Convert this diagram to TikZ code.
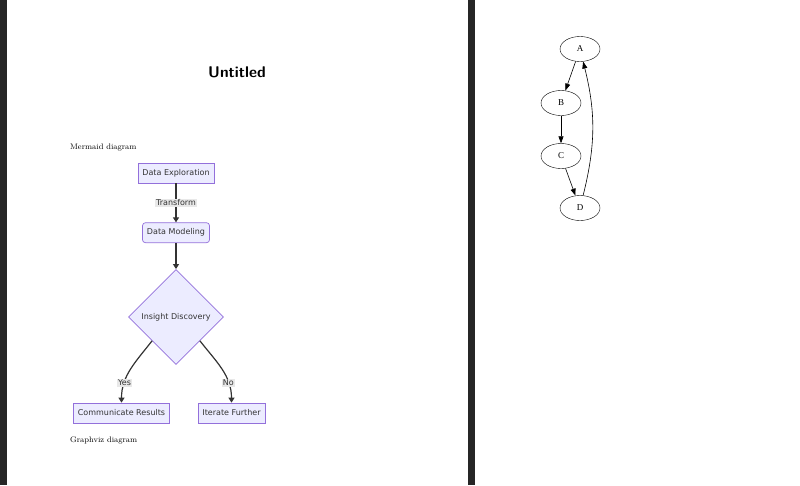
\documentclass[tikz,border=0pt]{standalone}
\usepackage{fontspec}
\newfontfamily\chartfont{DejaVu Sans}
\newfontfamily\dotfont{Liberation Serif}
\usepackage{tikz}
\usetikzlibrary{shapes.geometric, positioning, arrows.meta}
\definecolor{chartfill}{HTML}{ECECFF}
\definecolor{chartline}{HTML}{9370DB}
\definecolor{charttext}{HTML}{333333}
\definecolor{labelbg}{HTML}{E8E8E8}
\definecolor{viewer}{HTML}{262626}
\tikzset{
	x=1pt, y=-1pt, % one unit is one pixel, y runs down the page
	chart/.style={draw=chartline, fill=chartfill, line width=0.7pt, text=charttext, font=\chartfont\fontsize{8}{10}\selectfont}, % every shape of the flowchart
	box/.style={chart, rectangle, minimum height=20pt, inner xsep=4.5pt}, % plain process box
	roundbox/.style={box, rounded corners=3pt}, % box with round edges
	decision/.style={chart, diamond, minimum width=95pt, minimum height=95pt, inner sep=0pt}, % the question
	flow/.style={draw=charttext, line width=1.2pt, -{Triangle[length=5pt, width=6pt]}}, % flowchart arrows
	flowlabel/.style={fill=labelbg, text=charttext, inner sep=1pt, font=\chartfont\fontsize{8}{10}\selectfont}, % text on an arrow
	dotnode/.style={draw, ellipse, minimum width=40pt, minimum height=25pt, inner sep=0pt, font=\dotfont\fontsize{9}{10}\selectfont}, % graphviz ellipse
	dotedge/.style={draw=black, line width=0.6pt, -{Triangle[length=7pt, width=5pt]}}, % graphviz arrow
	caption/.style={anchor=west, inner sep=0pt, font=\rmfamily\fontsize{8}{10}\selectfont}, % small serif headings
}

\begin{document}
\begin{tikzpicture}
	\useasboundingbox (0,0) rectangle (800,485);
	\fill[white] (0,0) rectangle (800,485);
	% viewer background round the pages
	\fill[viewer] (0,0) rectangle (7,485);
	\fill[viewer] (468,0) rectangle (475,485);

	% first page
	\node[font=\sffamily\bfseries\fontsize{15.5}{18}\selectfont] (title) at (237,72) {Untitled};
	\node[caption] (mmdhead) at (70,148) {Mermaid diagram};

			\node[box] (explore) at (176,173) {Data Exploration};
			\node[roundbox, below=39pt of explore] (model) {Data Modeling};
			\node[decision, below=26pt of model] (insight) {Insight Discovery};
			\node[box] (report) at (121.5,413) {Communicate Results};
			\node[box] (iterate) at (231.5,413) {Iterate Further};
	\draw[flow] (explore) -- node[flowlabel]{Transform} (model);
	\draw[flow] (model) -- (insight);
	\draw[flow] (insight.south west) to[out=-128, in=90] node[flowlabel, pos=0.72]{Yes} (report.north);
	\draw[flow] (insight.south east) to[out=-52, in=90] node[flowlabel, pos=0.72]{No} (iterate.north);

	\node[caption] (dothead) at (70,440) {Graphviz diagram};

	% second page
			\node[dotnode] (a) at (580,49) {A};
			\node[dotnode] (b) at (561,103) {B};
			\node[dotnode] (c) at (561,156) {C};
			\node[dotnode] (d) at (580,208) {D};
	\draw 	(a) edge[dotedge] (b)
			(b) edge[dotedge] (c)
			(c) edge[dotedge] (d)
			(d) edge[dotedge, bend right=14] (a);
\end{tikzpicture}
\end{document}
